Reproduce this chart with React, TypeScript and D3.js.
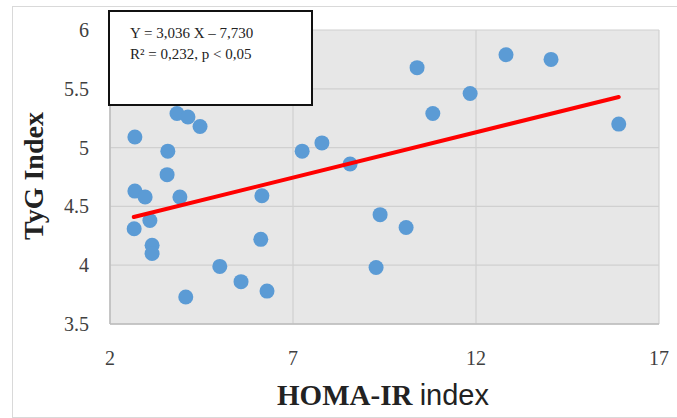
import * as d3 from "d3";
import { useEffect, useRef } from "react";

// HOMA-IR (x) и TyG (y) для каждого пациента
const homaValues = [
    2.68, 3.83, 4.13, 4.46, 3.58, 3.56, 2.68, 2.96, 3.91, 6.15, 7.25, 7.79,
    3.09, 2.66, 3.15, 3.15, 6.12, 5.0, 5.58, 6.29, 4.07,
    10.39, 12.82, 14.05, 11.84, 10.82, 15.9, 8.56,
    9.38, 10.09, 9.27
];
const tygValues = [
    5.09, 5.29, 5.26, 5.18, 4.97, 4.77, 4.63, 4.58, 4.58, 4.59, 4.97, 5.04,
    4.38, 4.31, 4.17, 4.10, 4.22, 3.99, 3.86, 3.78, 3.73,
    5.68, 5.79, 5.75, 5.46, 5.29, 5.20, 4.86,
    4.43, 4.32, 3.98
];

// концы линии тренда
const trendX = [2.65, 15.9];
const trendY = [4.41, 5.43];

const xTicks = [2, 7, 12, 17];
const yTicks = [3.5, 4, 4.5, 5, 5.5, 6];

const equationLines = ["Y = 3,036 X – 7,730", "R² = 0,232, p < 0,05"];

const width = 677;
const height = 418;
const margin = { top: 30, bottom: 94, left: 110, right: 18 };

const App = () => {
    const chartRef = useRef<SVGSVGElement | null>(null);

    useEffect(() => {
        const svg = d3.select(chartRef.current);
        svg.selectAll("*").remove();

        const boundsWidth = width - margin.left - margin.right;
        const boundsHeight = height - margin.top - margin.bottom;

        const scaleX = d3.scaleLinear().domain([2, 17]).range([margin.left, margin.left + boundsWidth]);
        const scaleY = d3.scaleLinear().domain([3.5, 6]).range([margin.top + boundsHeight, margin.top]);

        // внешняя рамка
        svg.append("rect")
            .attr("x", 12.5).attr("y", 6.5)
            .attr("width", width - 12).attr("height", height - 7)
            .style("fill", "white")
            .style("stroke", "#d9d9d9");

        // фон области построения
        svg.append("rect")
            .attr("x", margin.left).attr("y", margin.top)
            .attr("width", boundsWidth).attr("height", boundsHeight)
            .style("fill", "#e7e7e7");

        // сетка
        svg.selectAll("line.gy")
            .data(yTicks)
            .enter()
            .append("line")
            .attr("class", "gy")
            .attr("x1", margin.left).attr("x2", margin.left + boundsWidth)
            .attr("y1", d => scaleY(d)).attr("y2", d => scaleY(d))
            .style("stroke", "#d0d0d0")
            .style("stroke-width", 1.2);

        svg.selectAll("line.gx")
            .data(xTicks)
            .enter()
            .append("line")
            .attr("class", "gx")
            .attr("x1", d => scaleX(d)).attr("x2", d => scaleX(d))
            .attr("y1", margin.top).attr("y2", margin.top + boundsHeight)
            .style("stroke", "#d0d0d0")
            .style("stroke-width", 1.2);

        // оси
        svg.append("line")
            .attr("x1", margin.left).attr("x2", margin.left)
            .attr("y1", margin.top).attr("y2", margin.top + boundsHeight)
            .style("stroke", "#bdbdbd").style("stroke-width", 1.5);
        svg.append("line")
            .attr("x1", margin.left).attr("x2", margin.left + boundsWidth)
            .attr("y1", margin.top + boundsHeight).attr("y2", margin.top + boundsHeight)
            .style("stroke", "#bdbdbd").style("stroke-width", 1.5);

        // подписи делений
        svg.selectAll("text.ty")
            .data(yTicks)
            .enter()
            .append("text")
            .attr("class", "ty")
            .attr("x", 89)
            .attr("y", d => scaleY(d) + 7)
            .attr("text-anchor", "end")
            .style("font-family", "'Liberation Serif', 'Times New Roman', serif")
            .style("font-size", "20px")
            .style("fill", "#404040")
            .text(d => d3.format("")(d));

        svg.selectAll("text.tx")
            .data(xTicks)
            .enter()
            .append("text")
            .attr("class", "tx")
            .attr("x", d => scaleX(d))
            .attr("y", 365)
            .attr("text-anchor", "middle")
            .style("font-family", "'Liberation Serif', 'Times New Roman', serif")
            .style("font-size", "20px")
            .style("fill", "#404040")
            .text(d => d);

        // точки
        const points = homaValues.map((x, i) => ({ x, y: tygValues[i] }));
        svg.selectAll("circle.pt")
            .data(points)
            .enter()
            .append("circle")
            .attr("class", "pt")
            .attr("r", 7.5)
            .attr("cx", d => scaleX(d.x))
            .attr("cy", d => scaleY(d.y))
            .style("fill", "#5b9bd5");

        // линия тренда
        const line = d3.line<number>()
            .x((d, i) => scaleX(trendX[i]))
            .y(d => scaleY(d));
        svg.append("path")
            .attr("d", line(trendY))
            .style("fill", "none")
            .style("stroke", "#ff0000")
            .style("stroke-width", 4)
            .style("stroke-linecap", "round");

        // рамка с уравнением
        svg.append("rect")
            .attr("x", 109).attr("y", 11)
            .attr("width", 203).attr("height", 94)
            .style("fill", "white")
            .style("stroke", "#111")
            .style("stroke-width", 2);

        svg.selectAll("text.eq")
            .data(equationLines)
            .enter()
            .append("text")
            .attr("class", "eq")
            .attr("x", 130)
            .attr("y", (d, i) => 38 + i * 21)
            .style("font-family", "'Liberation Serif', 'Times New Roman', serif")
            .style("font-size", "15px")
            .style("fill", "#222")
            .text(d => d);

        // названия осей
        svg.append("text")
            .attr("transform", "translate(43, 176) rotate(-90)")
            .attr("text-anchor", "middle")
            .style("font-family", "'Liberation Serif', 'Times New Roman', serif")
            .style("font-size", "28px")
            .style("font-weight", "bold")
            .style("fill", "#222")
            .text("TyG Index");

        const xTitle = svg.append("text")
            .attr("x", 383)
            .attr("y", 405)
            .attr("text-anchor", "middle")
            .style("font-size", "29px")
            .style("fill", "#222");
        xTitle.append("tspan")
            .style("font-family", "'Liberation Serif', 'Times New Roman', serif")
            .style("font-weight", "bold")
            .text("HOMA-IR ");
        xTitle.append("tspan")
            .style("font-family", "'Liberation Sans', Arial, sans-serif")
            .text("index");
    }, []);

    return (
        <div style={{ position: "absolute", left: 0, top: 0 }}>
            <svg ref={chartRef} width={width} height={height} style={{ display: "block" }}></svg>
        </div>
    );
};

export default App;
